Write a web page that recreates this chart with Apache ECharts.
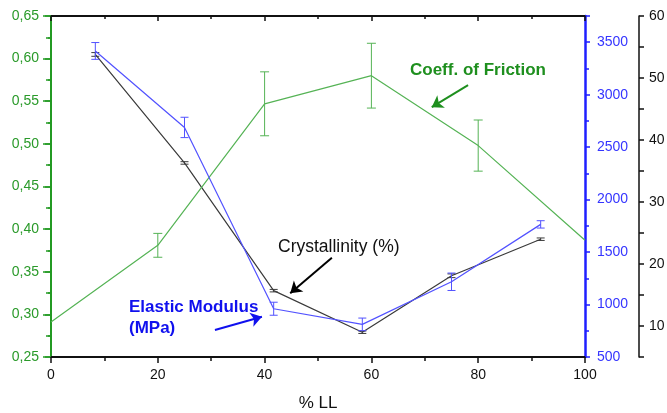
<!DOCTYPE html>
<html><head><meta charset="utf-8">
<script src="https://cdn.jsdelivr.net/npm/echarts@6/dist/echarts.min.js"></script>
<style>html,body{margin:0;padding:0;background:#fff}#c{width:667px;height:413px}</style>
</head><body><div id="c"></div>
<script>
// Coefficient of friction (left green axis)
const xFriction = [0, 20, 40, 60, 80, 100];
const friction = [0.291, 0.381, 0.547, 0.580, 0.498, 0.387];
const frictionErr = [0, 0.014, 0.0375, 0.038, 0.030, 0];
// Elastic modulus (MPa) and crystallinity (%)
const xLL = [8.3, 25, 41.7, 58.3, 75, 91.7];
const modulus = [3417, 2688, 960, 811, 1217, 1764];
const modulusErr = [80, 97, 62, 60, 83, 35];
const crystallinity = [53.8, 36.3, 15.7, 9.0, 18.1, 24.0];
const crystErr = [0.3, 0.2, 0.2, 0.2, 0.3, 0.2];
// Axis ticks
const xTicks = [0, 20, 40, 60, 80, 100];

const GREEN = '#239a23', GREEN_LINE = '#55b355', GREEN_TXT = '#2a9a2a';
const BLUE = '#1f1fff', BLUE_LINE = '#5252ff', BLUE_TXT = '#3535ff';
const BLACK = '#111', BLACK_LINE = '#3a3a3a';
const FONT = 'Liberation Sans, Arial, sans-serif';

function pairs(xs, ys) { return xs.map((x, i) => [x, ys[i]]); }
function errData(xs, ys, es) {
  return xs.map((x, i) => [x, ys[i] - es[i], ys[i] + es[i]]).filter((d, i) => es[i] > 0);
}
function errRender(color, capW) {
  return function (params, api) {
    const x = api.value(0), lo = api.value(1), hi = api.value(2);
    const p1 = api.coord([x, lo]), p2 = api.coord([x, hi]);
    const st = { stroke: color, lineWidth: 1 };
    return { type: 'group', children: [
      { type: 'line', shape: { x1: p1[0], y1: p1[1], x2: p2[0], y2: p2[1] }, style: st },
      { type: 'line', shape: { x1: p1[0] - capW / 2, y1: p1[1], x2: p1[0] + capW / 2, y2: p1[1] }, style: st },
      { type: 'line', shape: { x1: p2[0] - capW / 2, y1: p2[1], x2: p2[0] + capW / 2, y2: p2[1] }, style: st }
    ]};
  };
}
function arrow(from, to, color) {
  return [{ coord: from, lineStyle: { color: color, width: 2, type: 'solid' } }, { coord: to }];
}

const chart = echarts.init(document.getElementById('c'), null, { renderer: 'canvas' });
const option = {
  backgroundColor: '#fff',
  animation: false,
  textStyle: { fontFamily: FONT },
  grid: { left: 51, right: 82, top: 16, bottom: 56, containLabel: false, outerBoundsMode: 'none' },
  xAxis: [
    { type: 'value', min: xTicks[0], max: xTicks[xTicks.length - 1], interval: 20, position: 'bottom',
      axisLine: { onZero: false, lineStyle: { color: BLACK, width: 2 } },
      axisTick: { length: 6, lineStyle: { color: BLACK, width: 1.5 } },
      minorTick: { show: true, splitNumber: 2, length: 4, lineStyle: { color: BLACK, width: 1.5 } },
      splitLine: { show: false }, minorSplitLine: { show: false },
      axisLabel: { color: BLACK, fontSize: 14, margin: 11, fontFamily: FONT },
      name: '% LL', nameLocation: 'middle', nameGap: 38,
      nameTextStyle: { fontSize: 17, color: BLACK, fontFamily: FONT } },
    { type: 'value', min: 0, max: 100, interval: 20, position: 'top',
      axisLine: { onZero: false, lineStyle: { color: BLACK, width: 2 } },
      axisTick: { inside: true, length: 5, lineStyle: { color: BLACK, width: 1.5 } },
      minorTick: { show: true, splitNumber: 2, length: 3, lineStyle: { color: BLACK, width: 1.5 } },
      splitLine: { show: false }, axisLabel: { show: false } }
  ],
  yAxis: [
    { type: 'value', min: 0.25, max: 0.65, interval: 0.05, position: 'left',
      axisLine: { show: true, onZero: false, lineStyle: { color: GREEN, width: 2 } },
      axisTick: { show: true, length: 6, lineStyle: { color: GREEN, width: 1.5 } },
      minorTick: { show: true, splitNumber: 2, length: 3, lineStyle: { color: GREEN, width: 1.5 } },
      splitLine: { show: false },
      axisLabel: { color: GREEN_TXT, fontSize: 14, margin: 12, fontFamily: FONT,
        formatter: v => v.toFixed(2).replace('.', ',') } },
    { type: 'value', min: 500, max: 3750, interval: 500, position: 'right', offset: 0,
      axisLine: { show: true, onZero: false, lineStyle: { color: BLUE, width: 2.5 } },
      axisTick: { show: true, length: 5, lineStyle: { color: BLUE, width: 1.5 } },
      minorTick: { show: true, splitNumber: 2, length: 4, lineStyle: { color: BLUE, width: 1.5 } },
      splitLine: { show: false },
      axisLabel: { color: BLUE_TXT, fontSize: 14, margin: 12, fontFamily: FONT,
        formatter: v => (v % 500 === 0 ? String(v) : '') } },
    { type: 'value', min: 5, max: 60, interval: 5, position: 'right', offset: 54,
      axisLine: { show: true, onZero: false, lineStyle: { color: BLACK, width: 1.5 } },
      axisTick: { show: true, length: 5, lineStyle: { color: BLACK, width: 1.5 } },
      splitLine: { show: false },
      axisLabel: { color: BLACK, fontSize: 14, margin: 10, fontFamily: FONT,
        formatter: v => (v % 10 === 0 ? String(v) : '') } },
    { type: 'value', min: 0.25, max: 0.65, interval: 0.05, position: 'right', offset: 0,
      axisLine: { show: false },
      axisTick: { show: true, inside: true, length: 8, lineStyle: { color: GREEN, width: 1.5 } },
      minorTick: { show: true, splitNumber: 2, length: 5, lineStyle: { color: GREEN, width: 1.5 } },
      splitLine: { show: false }, axisLabel: { show: false } }
  ],
  series: [
    { name: 'Coeff. of Friction', type: 'line', xAxisIndex: 0, yAxisIndex: 0, data: pairs(xFriction, friction),
      symbol: 'none', lineStyle: { color: GREEN_LINE, width: 1.2 }, z: 3,
      markLine: { silent: true, symbol: ['none', 'arrow'], symbolSize: 11, label: { show: false },
        data: [arrow([78.1, 0.569], [71.3, 0.543], '#1e8f1e')] } },
    { type: 'custom', xAxisIndex: 0, yAxisIndex: 0, data: errData(xFriction, friction, frictionErr),
      renderItem: errRender(GREEN_LINE, 9), encode: { x: 0, y: [1, 2] }, clip: false, z: 3 },
    { name: 'Crystallinity (%)', type: 'line', xAxisIndex: 0, yAxisIndex: 2, data: pairs(xLL, crystallinity),
      symbol: 'none', lineStyle: { color: BLACK_LINE, width: 1.2 }, z: 2,
      markLine: { silent: true, symbol: ['none', 'arrow'], symbolSize: 11, label: { show: false },
        data: [arrow([52.6, 21.0], [44.8, 15.3], '#000')] } },
    { type: 'custom', xAxisIndex: 0, yAxisIndex: 2, data: errData(xLL, crystallinity, crystErr),
      renderItem: errRender(BLACK_LINE, 8), encode: { x: 0, y: [1, 2] }, clip: false, z: 2 },
    { name: 'Elastic Modulus (MPa)', type: 'line', xAxisIndex: 0, yAxisIndex: 1, data: pairs(xLL, modulus),
      symbol: 'none', lineStyle: { color: BLUE_LINE, width: 1.2 }, z: 4,
      markLine: { silent: true, symbol: ['none', 'arrow'], symbolSize: 11, label: { show: false },
        data: [arrow([30.7, 757], [39.5, 884], '#1010ee')] } },
    { type: 'custom', xAxisIndex: 0, yAxisIndex: 1, data: errData(xLL, modulus, modulusErr),
      renderItem: errRender(BLUE_LINE, 8), encode: { x: 0, y: [1, 2] }, clip: false, z: 4 }
  ],
  graphic: [
    { type: 'text', left: 410, top: 62, style: { text: 'Coeff. of Friction', fill: '#1e8f1e', font: 'bold 17px ' + FONT } },
    { type: 'text', left: 278, top: 238, style: { text: 'Crystallinity (%)', fill: '#111', font: '17.5px ' + FONT } },
    { type: 'text', left: 129, top: 299, style: { text: 'Elastic Modulus', fill: '#1010ee', font: 'bold 17px ' + FONT } },
    { type: 'text', left: 129, top: 320, style: { text: '(MPa)', fill: '#1010ee', font: 'bold 17px ' + FONT } }
  ]
};
chart.setOption(option);
</script>
</body></html>
